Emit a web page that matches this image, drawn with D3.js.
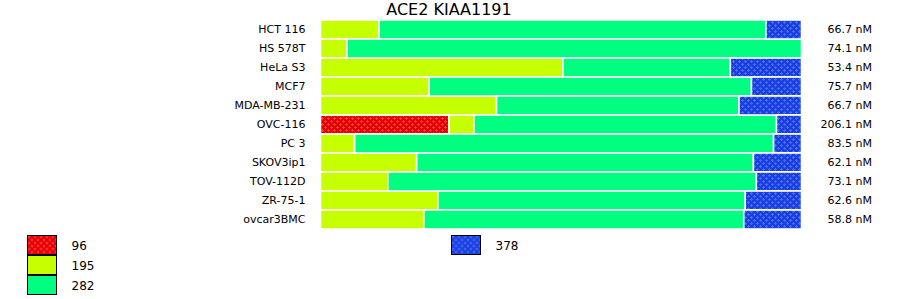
<!DOCTYPE html>
<html>
<head>
<meta charset="utf-8">
<script src="https://cdn.jsdelivr.net/npm/d3@7"></script>
<style>
  body { margin: 0; background: #fff; }
  text { font-family: "DejaVu Sans", Verdana, sans-serif; fill: #000; }
</style>
</head>
<body>
<div id="chart"></div>
<script>
// cell lines and their stacked shares (percent of bar) per category
const cellLines = ["HCT 116", "HS 578T", "HeLa S3", "MCF7", "MDA-MB-231", "OVC-116",
                   "PC 3", "SKOV3ip1", "TOV-112D", "ZR-75-1", "ovcar3BMC"];
const categories = ["96", "195", "282", "378"];
const s96  = [0, 0, 0, 0, 0, 26.7, 0, 0, 0, 0, 0];
const s195 = [12.2, 5.5, 50.4, 22.6, 36.6, 5.2, 7.1, 20.0, 14.0, 24.4, 21.5];
const s282 = [80.4, 94.5, 34.8, 67.0, 50.4, 62.9, 87.1, 70.0, 76.6, 63.9, 66.5];
const s378 = [7.4, 0, 14.8, 10.4, 13.0, 5.2, 5.8, 10.0, 9.4, 11.7, 12.0];
const concLabels = ["66.7 nM", "74.1 nM", "53.4 nM", "75.7 nM", "66.7 nM", "206.1 nM",
                    "83.5 nM", "62.1 nM", "73.1 nM", "62.6 nM", "58.8 nM"];
const title = "ACE2 KIAA1191";

const width = 900, height = 299;
const margin = { top: 20, left: 320.5, right: 98.5 };

const svg = d3.select("#chart").append("svg")
    .attr("width", width)
    .attr("height", height);

// textured fills for the first and last category
const defs = svg.append("defs");
function addPattern(id, base, dot) {
    const p = defs.append("pattern")
        .attr("id", id)
        .attr("patternUnits", "userSpaceOnUse")
        .attr("width", 6).attr("height", 6);
    p.append("rect").attr("width", 6).attr("height", 6).attr("fill", base);
    p.append("path")
        .attr("fill", dot)
        .attr("d", "M1,0h1v1h1v1h-1v1h-1v-1h-1v-1h1z M4,3h1v1h1v1h-1v1h-1v-1h-1v-1h1z");
}
addPattern("pat96", "#e40000", "#ff3a3a");
addPattern("pat378", "#1c3ee0", "#4070f4");

const fills = {
    "96": "url(#pat96)",
    "195": "#c6ff00",
    "282": "#00ff80",
    "378": "url(#pat378)"
};

const rows = cellLines.map((name, i) => ({
    name: name,
    "96": s96[i], "195": s195[i], "282": s282[i], "378": s378[i]
}));

const stacked = d3.stack().keys(categories)(rows);

const x = d3.scaleLinear()
    .domain([0, 100])
    .range([margin.left, width - margin.right]);

const y = d3.scaleBand()
    .domain(cellLines)
    .range([margin.top, margin.top + cellLines.length * 19]);

// title
svg.append("text")
    .attr("x", 449)
    .attr("y", 15)
    .attr("text-anchor", "middle")
    .style("font-size", "16px")
    .text(title);

// bars
svg.append("g")
    .selectAll("g")
    .data(stacked)
    .join("g")
    .attr("fill", d => fills[d.key])
    .selectAll("rect")
    .data(d => d.filter(s => s[1] - s[0] > 0))
    .join("rect")
    .attr("x", d => x(d[0]))
    .attr("y", d => y(d.data.name))
    .attr("width", d => x(d[1]) - x(d[0]))
    .attr("height", y.bandwidth())
    .attr("stroke", "#fff")
    .attr("stroke-width", 1.6);

// row labels
const yAxis = svg.append("g")
    .attr("transform", `translate(${margin.left - 15},0)`)
    .call(d3.axisLeft(y).tickSize(0).tickPadding(0));
yAxis.select(".domain").remove();
yAxis.selectAll("text")
    .style("font-family", "DejaVu Sans, Verdana, sans-serif")
    .style("font-size", "11px")
    .attr("fill", "#000");

// concentration labels on the right
svg.append("g")
    .selectAll("text")
    .data(cellLines)
    .join("text")
    .attr("x", 872)
    .attr("y", d => y(d) + y.bandwidth() / 2)
    .attr("dy", "0.35em")
    .attr("text-anchor", "end")
    .style("font-size", "11px")
    .text((d, i) => concLabels[i]);

// legend: three rows in the first column, the rest in a second column
const legend = svg.append("g")
    .selectAll("g")
    .data(categories)
    .join("g")
    .attr("transform", (d, i) => `translate(${i < 3 ? 27.5 : 451.5},${235.5 + (i % 3) * 20})`);

legend.append("rect")
    .attr("width", 29)
    .attr("height", 19)
    .attr("fill", d => fills[d])
    .attr("stroke", "#000")
    .attr("stroke-width", 1);

legend.append("text")
    .attr("x", 44)
    .attr("y", 10)
    .attr("dy", "0.35em")
    .style("font-size", "12px")
    .text(d => d);
</script>
</body>
</html>
